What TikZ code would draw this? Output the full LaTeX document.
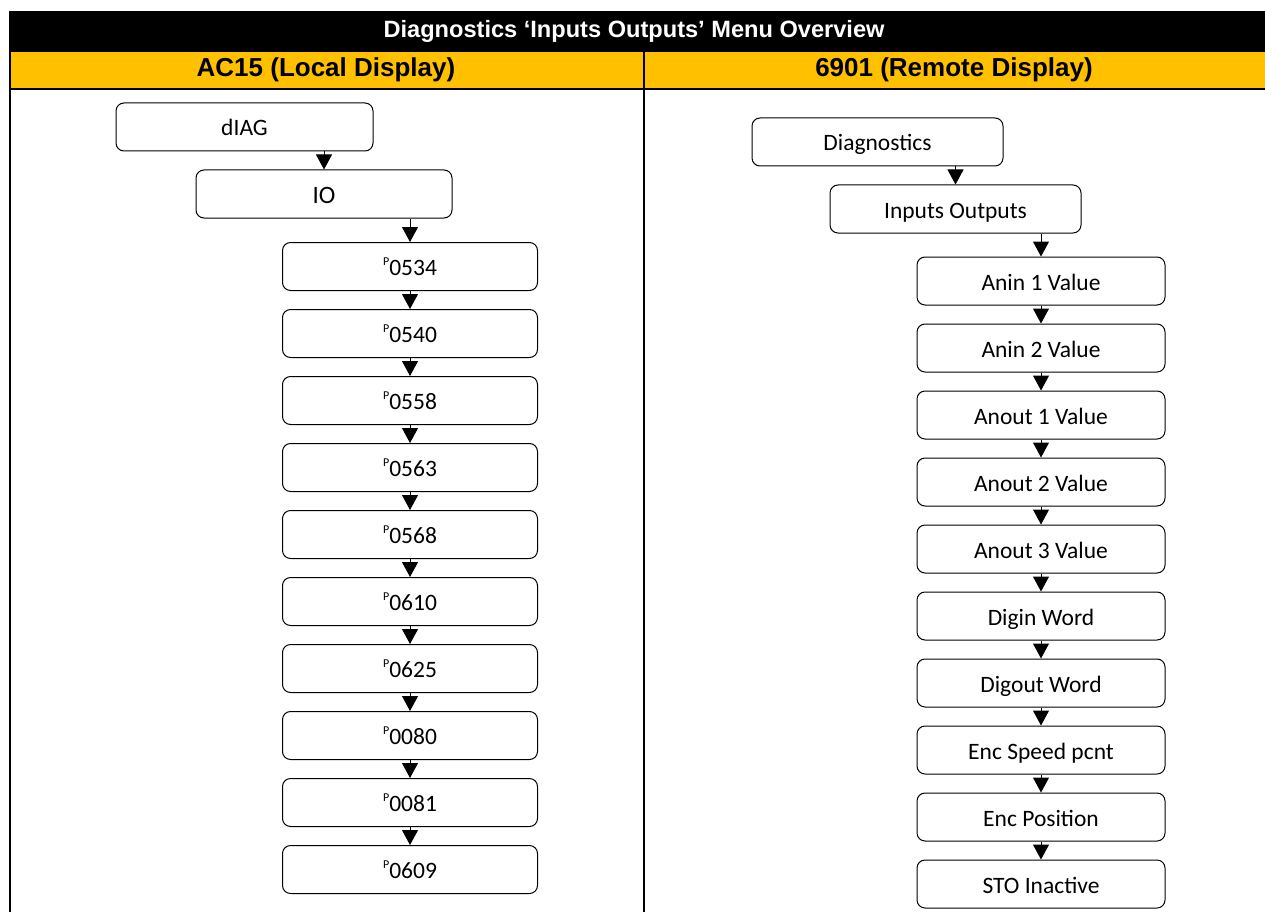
\documentclass[tikz,border=0pt]{standalone}
\usepackage{fontspec}
\setmainfont{Carlito}
\newfontfamily\headfont{Liberation Sans}
\usetikzlibrary{arrows.meta}
\definecolor{menuorange}{RGB}{255,192,0}
\newcommand{\parno}[1]{\raisebox{10pt}{\fontsize{12}{12}\selectfont P}#1}

\begin{document}
\begin{tikzpicture}[x=1pt, y=-1pt,
    menubox/.style={draw, rounded corners=8pt, line width=1pt, inner sep=0pt,
      minimum height=48pt, text height=18pt, text depth=0pt,
      font=\fontsize{23.5}{26}\selectfont},
    lbox/.style={menubox, minimum width=255pt},
    rbox/.style={menubox, minimum width=248pt},
    title/.style={font=\headfont\bfseries\fontsize{26}{30}\selectfont},
    arr/.style={-{Triangle[length=15pt, width=16pt]}, line width=1pt}
  ]
  \useasboundingbox (0,0) rectangle (1265,912);

  % table frame
  \fill[black] (9,11) rectangle (1265,52);
  \fill[menuorange] (9,52) rectangle (1265,88);
  \draw[line width=2pt] (9,89) -- (1265,89);
  \draw[line width=2pt] (10,11) -- (10,912);
  \draw[line width=2pt] (643.5,52) -- (643.5,912);
  \node[title, text=white, font=\headfont\bfseries\fontsize{23.6}{28}\selectfont] (maintitle) at (634,31.5) {Diagnostics ‘Inputs Outputs’ Menu Overview};
  \node[title] (lefthead) at (326,70) {AC15 (Local Display)};
  \node[title] (righthead) at (954,70) {6901 (Remote Display)};

  % AC15 local display
  \node[lbox, minimum width=257pt] (diag) at (244.5,127) {dIAG};
  \node[lbox, minimum width=256pt, font=\fontsize{25}{28}\selectfont] (io) at (324,194) {IO};
  \node[lbox] (p0534) at (410,266.5) {\parno{0534}};
  \node[lbox] (p0540) at (410,333.5) {\parno{0540}};
  \node[lbox] (p0558) at (410,400.5) {\parno{0558}};
  \node[lbox] (p0563) at (410,467.5) {\parno{0563}};
  \node[lbox] (p0568) at (410,534.5) {\parno{0568}};
  \node[lbox] (p0610) at (410,601.5) {\parno{0610}};
  \node[lbox] (p0625) at (410,668.5) {\parno{0625}};
  \node[lbox] (p0080) at (410,735.5) {\parno{0080}};
  \node[lbox] (p0081) at (410,802.5) {\parno{0081}};
  \node[lbox] (p0609) at (410,869.5) {\parno{0609}};

  \draw[arr] (diag.south -| io.north) -- (io.north);
  \draw[arr] (io.south -| p0534.north) -- (p0534.north);
  \draw[arr] (p0534) -- (p0540);
  \draw[arr] (p0540) -- (p0558);
  \draw[arr] (p0558) -- (p0563);
  \draw[arr] (p0563) -- (p0568);
  \draw[arr] (p0568) -- (p0610);
  \draw[arr] (p0610) -- (p0625);
  \draw[arr] (p0625) -- (p0080);
  \draw[arr] (p0080) -- (p0081);
  \draw[arr] (p0081) -- (p0609);

  % 6901 remote display
  \node[rbox, minimum width=251pt] (rdiag) at (877.5,142) {Diagnostics};
  \node[rbox, minimum width=251pt] (rio) at (955.5,209) {Inputs Outputs};
  \node[rbox] (anin1) at (1041,281) {Anin 1 Value};
  \node[rbox] (anin2) at (1041,348) {Anin 2 Value};
  \node[rbox] (anout1) at (1041,415) {Anout 1 Value};
  \node[rbox] (anout2) at (1041,482) {Anout 2 Value};
  \node[rbox] (anout3) at (1041,549) {Anout 3 Value};
  \node[rbox] (digin) at (1041,616) {Digin Word};
  \node[rbox] (digout) at (1041,683) {Digout Word};
  \node[rbox] (encspeed) at (1041,750) {Enc Speed pcnt};
  \node[rbox] (encpos) at (1041,817) {Enc Position};
  \node[rbox] (sto) at (1041,884) {STO Inactive};

  \draw[arr] (rdiag.south -| rio.north) -- (rio.north);
  \draw[arr] (rio.south -| anin1.north) -- (anin1.north);
  \draw[arr] (anin1) -- (anin2);
  \draw[arr] (anin2) -- (anout1);
  \draw[arr] (anout1) -- (anout2);
  \draw[arr] (anout2) -- (anout3);
  \draw[arr] (anout3) -- (digin);
  \draw[arr] (digin) -- (digout);
  \draw[arr] (digout) -- (encspeed);
  \draw[arr] (encspeed) -- (encpos);
  \draw[arr] (encpos) -- (sto);
\end{tikzpicture}
\end{document}
